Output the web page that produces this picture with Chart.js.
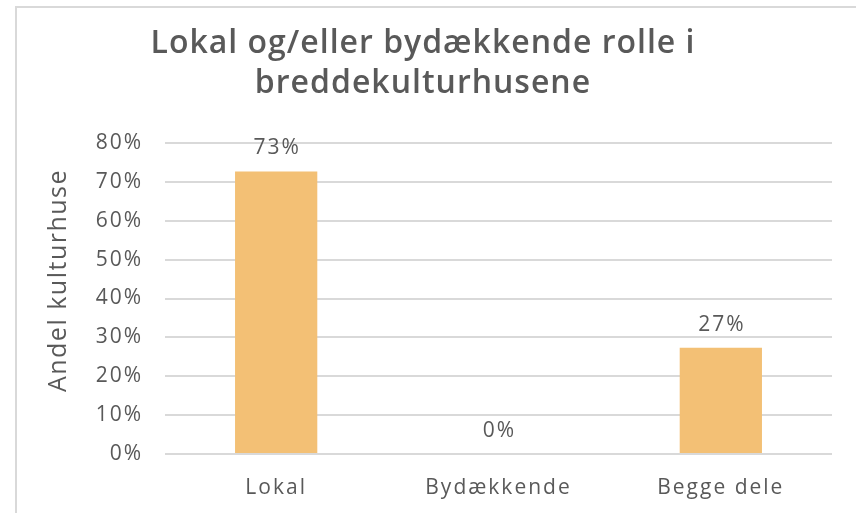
<!DOCTYPE html>
<html>
<head>
<meta charset="utf-8">
<script src="https://cdn.jsdelivr.net/npm/chart.js@4/dist/chart.umd.min.js"></script>
<style>
  html, body { margin: 0; padding: 0; background: #fff; }
  #wrap { position: relative; width: 856px; height: 513px; }
</style>
</head>
<body>
<div id="wrap"><canvas id="rolleChart" width="856" height="513"></canvas></div>
<script>
const categories = ["Lokal", "Bydækkende", "Begge dele"];
const shares = [72.7, 0, 27.3];
const chartTitle = ["Lokal og/eller bydækkende rolle i", "breddekulturhusene"];
const yTitle = "Andel kulturhuse";

const textColor = "#595959";
const gridColor = "#d9d9d9";
const barColor = "#f3c075";
const fontFamily = "'Open Sans', 'Noto Sans', sans-serif";

// the original font is wide and airy, so spread the letters a bit
const setSpacing = (chart) => {
  chart.ctx.letterSpacing = "2px";
};

const framePlugin = {
  id: "frame",
  beforeLayout: setSpacing,
  beforeDraw(chart) {
    setSpacing(chart);
    const ctx = chart.ctx;
    ctx.save();
    ctx.strokeStyle = gridColor;
    ctx.lineWidth = 2;
    ctx.beginPath();
    ctx.moveTo(16, 513);
    ctx.lineTo(16, 7);
    ctx.lineTo(856, 7);
    ctx.stroke();
    ctx.restore();
  },
};

// value labels above bars + the titles
const textPlugin = {
  id: "texts",
  afterDatasetsDraw(chart) {
    const ctx = chart.ctx;
    const meta = chart.getDatasetMeta(0);
    ctx.save();
    ctx.fillStyle = textColor;
    ctx.letterSpacing = "2px";
    ctx.font = "21px " + fontFamily;
    ctx.textAlign = "center";
    ctx.textBaseline = "alphabetic";
    meta.data.forEach((bar, i) => {
      const v = chart.data.datasets[0].data[i];
      ctx.fillText(Math.round(v) + "%", bar.x + 1, bar.y - 17);
    });
    ctx.restore();
  },
  afterDraw(chart) {
    const ctx = chart.ctx;
    ctx.save();
    ctx.fillStyle = textColor;
    ctx.textAlign = "center";
    ctx.textBaseline = "alphabetic";
    ctx.letterSpacing = "1px";
    ctx.font = "600 32px " + fontFamily;
    chartTitle.forEach((line, i) => {
      ctx.fillText(line, 423, 53 + i * 39.5);
    });
    ctx.letterSpacing = "1.5px";
    ctx.font = "25px " + fontFamily;
    const yMid = (chart.chartArea.top + chart.chartArea.bottom) / 2 - 18;
    ctx.translate(66, yMid);
    ctx.rotate(-Math.PI / 2);
    ctx.fillText(yTitle, 0, 0);
    ctx.restore();
  },
};

const ctx = document.getElementById("rolleChart").getContext("2d");
const rolleChart = new Chart(ctx, {
  type: "bar",
  data: {
    labels: categories,
    datasets: [
      {
        data: shares,
        backgroundColor: barColor,
        borderWidth: 0,
        categoryPercentage: 1,
        barPercentage: 0.37,
      },
    ],
  },
  options: {
    responsive: false,
    animation: false,
    layout: {
      padding: { top: 143, left: 14, right: 24, bottom: 0 },
    },
    scales: {
      x: {
        grid: { display: false },
        border: { display: false },
        ticks: {
          color: textColor,
          font: { family: fontFamily, size: 21 },
          padding: 13,
        },
        afterFit: (scale) => {
          scale.height = 59;
        },
      },
      y: {
        min: 0,
        max: 80,
        grid: { color: gridColor, lineWidth: 2, drawTicks: false },
        border: { display: false },
        ticks: {
          stepSize: 10,
          color: textColor,
          padding: 22,
          font: { family: fontFamily, size: 21 },
          callback: (v) => v + "%",
        },
        afterFit: (scale) => {
          scale.width = 151;
        },
      },
    },
    plugins: {
      legend: { display: false },
      tooltip: { enabled: false },
      title: { display: false },
    },
  },
  plugins: [framePlugin, textPlugin],
});
</script>
</body>
</html>
